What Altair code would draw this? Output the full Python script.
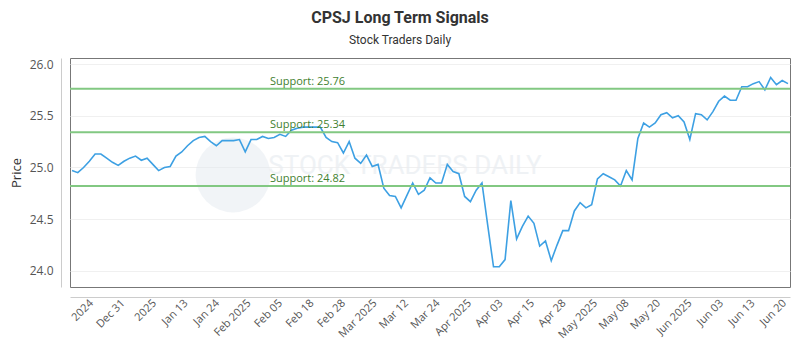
import altair as alt
import pandas as pd

# ---- data ----
prices = [
    24.97, 24.95, 25.00, 25.06, 25.13, 25.13, 25.09, 25.05, 25.02, 25.06,
    25.09, 25.11, 25.07, 25.09, 25.03, 24.97, 25.00, 25.01, 25.11, 25.15,
    25.21, 25.26, 25.29, 25.30, 25.25, 25.21, 25.26, 25.26, 25.26, 25.27,
    25.15, 25.27, 25.27, 25.30, 25.28, 25.29, 25.32, 25.30, 25.36, 25.38,
    25.39, 25.39, 25.39, 25.39, 25.29, 25.25, 25.24, 25.14, 25.25, 25.09,
    25.04, 25.12, 25.01, 25.03, 24.80, 24.73, 24.72, 24.61, 24.73, 24.85,
    24.74, 24.78, 24.90, 24.85, 24.85, 25.03, 24.96, 24.94, 24.72, 24.67,
    24.78, 24.85, 24.44, 24.04, 24.04, 24.11, 24.68, 24.31, 24.43, 24.53,
    24.46, 24.24, 24.29, 24.10, 24.25, 24.39, 24.39, 24.58, 24.66, 24.61,
    24.64, 24.89, 24.94, 24.91, 24.88, 24.82, 24.97, 24.88, 25.28, 25.43,
    25.39, 25.43, 25.51, 25.53, 25.48, 25.50, 25.44, 25.27, 25.52, 25.51,
    25.46, 25.54, 25.64, 25.69, 25.65, 25.65, 25.78, 25.78, 25.81, 25.83,
    25.75, 25.87, 25.80, 25.84, 25.81,
]
support_levels = [25.76, 25.34, 24.82]
support_labels = ["Support: 25.76", "Support: 25.34", "Support: 24.82"]
tick_labels = [
    "2024", "Dec 31", "2025", "Jan 13", "Jan 24", "Feb 2025", "Feb 05",
    "Feb 18", "Feb 28", "Mar 2025", "Mar 12", "Mar 24", "Apr 2025", "Apr 03",
    "Apr 15", "Apr 28", "May 2025", "May 08", "May 20", "Jun 2025", "Jun 03",
    "Jun 13", "Jun 20",
]
y_ticks = [24.0, 24.5, 25.0, 25.5, 26.0]

# ---- tables ----
n = len(prices)
df = pd.DataFrame({"i": list(range(n)), "price": prices})
sup = pd.DataFrame({"level": support_levels, "label": support_labels})

first_tick = 3.46
tick_step = 5.456
tick_vals = [first_tick + k * tick_step for k in range(len(tick_labels))]
label_expr = ("[" + ",".join("'%s'" % t for t in tick_labels) + "]"
              + "[round((datum.value - %s) / %s)]" % (first_tick, tick_step))

xscale = alt.Scale(domain=[-0.35, n - 1 + 0.35], nice=False, zero=False)
yscale = alt.Scale(domain=[23.845, 26.058], nice=False, zero=False)

x_enc = alt.X("i:Q", scale=xscale,
              axis=alt.Axis(values=tick_vals, labelExpr=label_expr, title=None,
                            labelAngle=-45, labelAlign="right", labelBaseline="top",
                            grid=False, ticks=False, offset=10, labelPadding=0,
                            labelOffset=-5,
                            domainColor="#cccccc", labelFontSize=11,
                            labelColor="#555555", labelFont="Open Sans",
                            labelOverlap=False, labelBound=False))
y_enc = alt.Y("price:Q", scale=yscale,
              axis=alt.Axis(values=y_ticks, format=".1f", title="Price",
                            grid=True, gridColor="#f0f0f0", ticks=False,
                            offset=9, labelPadding=8, domainColor="#cccccc",
                            labelFontSize=12, labelColor="#555555",
                            labelFont="Open Sans", titleFont="Open Sans",
                            titleFontSize=13, titleFontWeight="normal",
                            titleColor="#333333", titlePadding=6))

# watermark
wm_logo = alt.Chart(alt.Data(values=[{"a": 1}])).mark_circle(
    size=5600, color="#dfe7ee", opacity=0.45
).encode(x=alt.value(163), y=alt.value(117))
wm_text = alt.Chart(alt.Data(values=[{"a": 1}])).mark_text(
    text="STOCK TRADERS DAILY", fontSize=26, font="Roboto",
    color="#e9edf1", opacity=0.7, align="center", baseline="middle"
).encode(x=alt.value(335), y=alt.value(108))

rules = alt.Chart(sup).mark_rule(color="#82c882", strokeWidth=2).encode(
    y=alt.Y("level:Q", scale=yscale)
)
texts = alt.Chart(sup).mark_text(
    align="left", baseline="bottom", dy=-2, fontSize=11, font="Open Sans",
    color="#3f7f2f"
).encode(x=alt.value(200), y=alt.Y("level:Q", scale=yscale), text="label:N")

line = alt.Chart(df).mark_line(color="#3da0e3", strokeWidth=1.6).encode(
    x=x_enc, y=y_enc
)

chart = alt.layer(wm_logo, wm_text, line, rules, texts).properties(
    width=720,
    height=229,
    title=alt.TitleParams(
        text="CPSJ Long Term Signals",
        subtitle="Stock Traders Daily",
        font="Roboto",
        fontSize=16,
        fontWeight="bold",
        color="#333333",
        subtitleFont="Roboto",
        subtitleFontSize=12,
        subtitleColor="#333333",
        subtitlePadding=9,
        anchor="middle",
        dx=-30,
        offset=12,
    ),
    autosize=alt.AutoSizeParams(type="none"),
    padding={"left": 70, "top": 58, "right": 10, "bottom": 63},
).configure_view(stroke="#777777", strokeWidth=1)

chart.save("out.html", embed_options={"renderer": "svg", "actions": False})
